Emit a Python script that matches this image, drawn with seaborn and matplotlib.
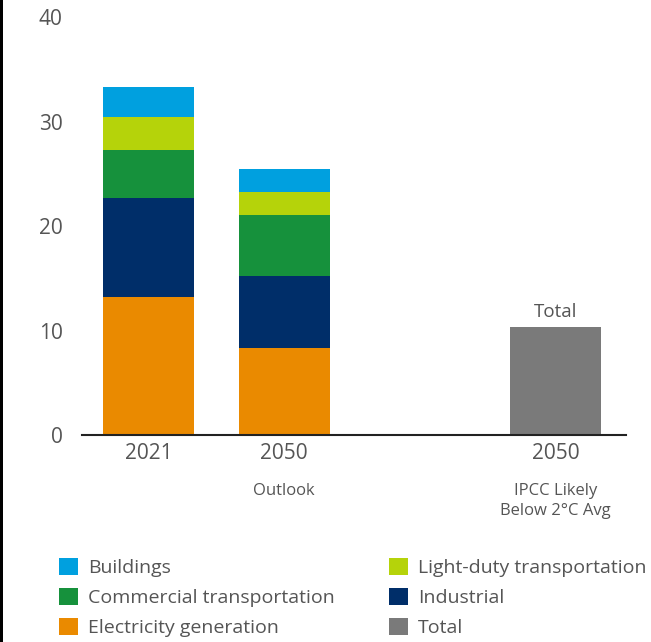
import pandas as pd
import matplotlib.pyplot as plt
import seaborn as sns
from matplotlib.patches import Patch, Rectangle

# Data (Mt/yr style values)
positions = [0, 1]
years = ["2021", "2050"]
sub_labels = ["", "Outlook"]
electricity = [13.2, 8.3]
industrial = [9.5, 6.9]
commercial = [4.6, 5.9]
light_duty = [3.1, 2.2]
buildings = [2.9, 2.2]

ipcc_position = [3]
ipcc_year = ["2050"]
ipcc_sub = ["IPCC Likely\nBelow 2°C Avg"]
ipcc_total = [10.3]

sectors = ["Electricity generation", "Industrial", "Commercial transportation",
           "Light-duty transportation", "Buildings"]
colors = {
    "Buildings": "#00a0df",
    "Light-duty transportation": "#b5d30a",
    "Commercial transportation": "#16913c",
    "Industrial": "#002e69",
    "Electricity generation": "#ea8a00",
    "Total": "#7a7a7a",
}

df = pd.DataFrame({
    "pos": positions,
    "Electricity generation": electricity,
    "Industrial": industrial,
    "Commercial transportation": commercial,
    "Light-duty transportation": light_duty,
    "Buildings": buildings,
})
# cumulative heights for stacking (draw tallest first, then overlay)
cum = df[sectors].cumsum(axis=1)
cum["pos"] = df["pos"]

ipcc = pd.DataFrame({"pos": ipcc_position, "total": ipcc_total})

sns.set_style("white")
plt.rcParams["font.family"] = ["Open Sans", "DejaVu Sans"]
text_color = "#555555"

fig = plt.figure(figsize=(6.51, 6.42), dpi=100)
ax = fig.add_axes([0.126, 0.3224, 0.836, 0.6511])

width = 0.67
for s in reversed(sectors):
    sns.barplot(data=cum, x="pos", y=s, native_scale=True, color=colors[s],
                saturation=1, width=width, ax=ax, edgecolor="none", linewidth=0)
sns.barplot(data=ipcc, x="pos", y="total", native_scale=True, color=colors["Total"],
            saturation=1, width=width, ax=ax, edgecolor="none", linewidth=0)

ax.text(ipcc_position[0], ipcc_total[0] + 0.6, "Total", ha="center", va="bottom",
        fontsize=13.5, color=text_color)

ax.set_xlim(-0.49, 3.52)
ax.set_ylim(0, 40)
ax.set_yticks([0, 10, 20, 30, 40])
ax.set_xticks(positions + ipcc_position)
ax.set_xticklabels(years + ipcc_year)
ax.tick_params(axis="both", length=0, labelsize=15, labelcolor=text_color)
ax.tick_params(axis="y", pad=14)
ax.tick_params(axis="x", pad=6)
ax.set_xlabel("")
ax.set_ylabel("")

for p, t in zip(positions + ipcc_position, sub_labels + ipcc_sub):
    if t:
        ax.text(p, -4.6, t, ha="center", va="top", fontsize=12,
                color=text_color, linespacing=1.3)

for side in ["left", "right", "top"]:
    ax.spines[side].set_visible(False)
ax.spines["bottom"].set_color("#222222")
ax.spines["bottom"].set_linewidth(1.5)

legend_order = ["Buildings", "Commercial transportation", "Electricity generation",
                "Light-duty transportation", "Industrial", "Total"]
handles = [Patch(facecolor=colors[k], edgecolor="none", label=k) for k in legend_order]
fig.legend(handles=handles, ncol=2, frameon=False, loc="lower left",
           bbox_to_anchor=(0.063, -0.02), fontsize=14, labelcolor=text_color,
           handlelength=1.0, handleheight=1.0, handletextpad=0.5,
           columnspacing=2.8, labelspacing=0.55)

# black strip at the left edge of the original picture
fig.patches.append(Rectangle((0, 0), 3 / 651, 1, transform=fig.transFigure,
                             facecolor="black", edgecolor="none"))

fig.savefig("out.png", dpi=100)
